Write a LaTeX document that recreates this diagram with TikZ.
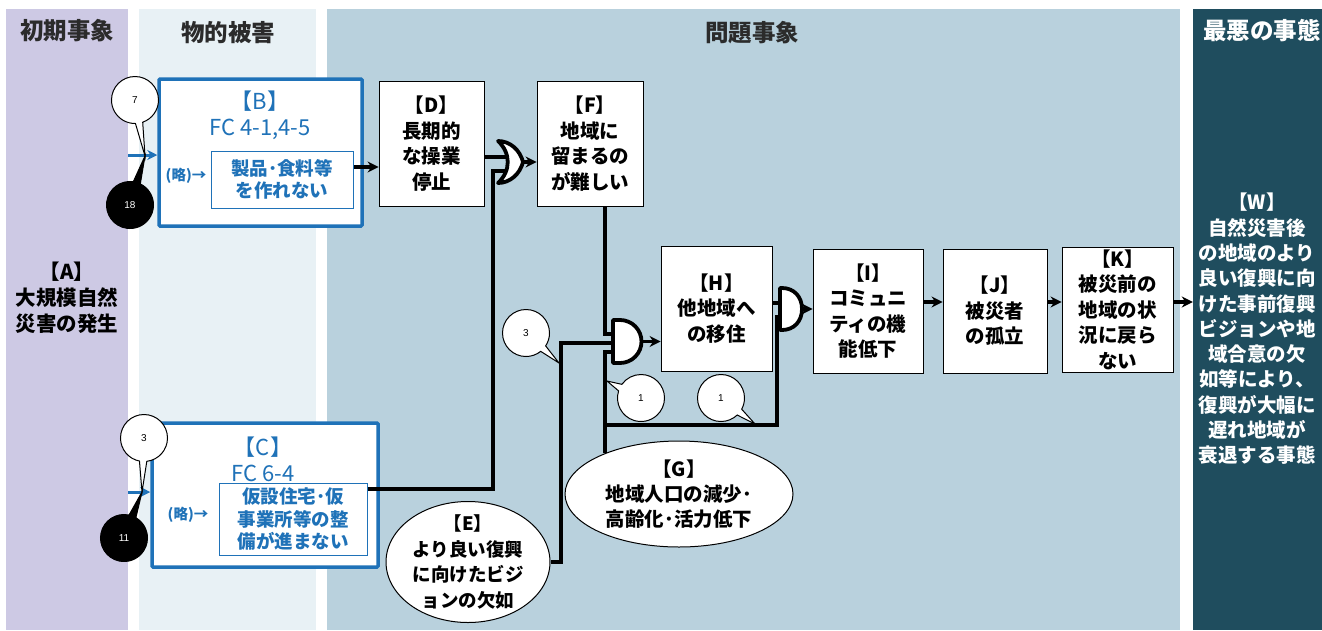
\documentclass[tikz,border=0pt]{standalone}
\usepackage{fontspec}
\setmainfont{Noto Sans CJK JP}
\newfontfamily\numfont{Liberation Sans}
\usepackage{xcolor}
\usepackage{tikz}
\usetikzlibrary{arrows.meta, positioning, shapes.geometric, shapes.callouts, calc}

\definecolor{laneA}{HTML}{CDC9E4}
\definecolor{laneB}{HTML}{E8F1F5}
\definecolor{laneP}{HTML}{B9D1DD}
\definecolor{laneW}{HTML}{1F4D5E}
\definecolor{fcblue}{HTML}{1F72B8}
\definecolor{headgray}{HTML}{2B2B2B}
\newcommand\bxfont{\bfseries\fontsize{19.5}{25.5}\selectfont}

\begin{document}
\begin{tikzpicture}[x=1pt, y=-1pt,
    lane/.style={rectangle, inner sep=0pt, draw=none, minimum height=621pt},
    head/.style={font=\bfseries\fontsize{23.5}{26}\selectfont, text=headgray},
    box/.style={rectangle, draw, line width=0.8pt, fill=white, align=center,
      inner sep=0pt, font=\bxfont},
    fcbox/.style={rectangle, draw=fcblue, line width=3.5pt, fill=white,
      rounded corners=1pt, inner sep=0pt},
    inbox/.style={rectangle, draw=fcblue, line width=1pt, fill=white, align=center,
      inner sep=0pt, text=fcblue, font=\bfseries\fontsize{18.5}{22.5}\selectfont},
    fctext/.style={align=center, text=fcblue, font=\fontsize{22}{26}\selectfont},
    omitnote/.style={text=fcblue, font=\bfseries\fontsize{14.5}{16}\selectfont, inner sep=0pt},
    oval/.style={ellipse, draw, line width=1pt, fill=white, inner sep=0pt},
    ovaltext/.style={align=center, inner sep=0pt},
    bubble/.style={ellipse callout, draw, line width=1pt, fill=white, inner sep=0pt,
      minimum width=47pt, minimum height=47pt, callout pointer arc=18,
      font=\numfont\fontsize{10}{12}\selectfont},
    blackbubble/.style={bubble, fill=black, text=white},
    line/.style={line width=3.5pt},
    arrow/.style={line width=3.5pt, -{Stealth[length=11pt, width=11pt]}},
    bluearrow/.style={draw=fcblue, line width=3pt, -{Stealth[length=10pt, width=10pt]}},
    gate/.style={line width=3.8pt, fill=white, line join=round}
]
\useasboundingbox (0,0) rectangle (1322,630);

% lanes
\node[lane, fill=laneA, minimum width=122pt] (laneA) at (67,319.5) {};
\node[lane, fill=laneB, minimum width=177pt] (laneB) at (227.5,319.5) {};
\node[lane, fill=laneP, minimum width=853pt] (laneP) at (753.5,319.5) {};
\node[lane, fill=laneW, minimum width=129pt] (laneW) at (1257.5,319.5) {};
\node[head]             (hA) at (67,31)   {初期事象};
\node[head]             (hB) at (228,33)  {物的被害};
\node[head]             (hP) at (752,33)  {問題事象};
\node[head, text=white] (hW) at (1262,31) {最悪の事態};

% initial event and worst case
\node[align=center, font=\bfseries\fontsize{20.5}{26}\selectfont] (A) at (67,298)
  {【A】\\大規模自然\\災害の発生};
\node[align=center, text=white, font=\bfseries\fontsize{19.5}{25.3}\selectfont] (W) at (1257,329)
  {【W】\\自然災害後\\の地域のより\\良い復興に向\\けた事前復興\\ビジョンや地\\域合意の欠\\如等により、\\復興が大幅に\\遅れ地域が\\衰退する事態};

% physical damage
\node[fcbox, minimum width=203pt, minimum height=147pt] (B) at (260.5,152.5) {};
\node[fctext] (Bhead) at (260,115) {【B】\\FC 4-1,4-5};
\node[inbox, minimum width=142pt, minimum height=57pt] (Bin) at (282,179.5) {製品･食料等\\を作れない};
\node[omitnote] (Bomit) at (186,176) {(略)→};

\node[fcbox, minimum width=226pt, minimum height=144pt] (C) at (265,495) {};
\node[fctext] (Chead) at (263,459.5) {【C】\\FC 6-4};
\node[inbox, minimum width=148pt, minimum height=72pt] (Cin) at (293,519) {仮設住宅･仮\\事業所等の整\\備が進まない};
\node[omitnote] (Comit) at (188,515) {(略)→};

% problem events
\node[box, minimum width=105pt, minimum height=125pt] (D) at (431.5,143.5) {【D】\\長期的\\な操業\\停止};
\node[box, minimum width=106pt, minimum height=125pt] (F) at (590,143.5)   {【F】\\地域に\\留まるの\\が難しい};
\node[box, minimum width=111pt, minimum height=125pt] (H) at (716.5,308.5) {【H】\\他地域へ\\の移住};
\node[box, minimum width=110pt, minimum height=124pt] (I) at (868,311)     {【I】\\コミュニ\\ティの機\\能低下};
\node[box, minimum width=104pt, minimum height=124pt] (J) at (995,311)     {【J】\\被災者\\の孤立};
\node[box, minimum width=111pt, minimum height=125pt] (K) at (1117.5,309.5) {【K】\\被災前の\\地域の状\\況に戻ら\\ない};

\node[oval, minimum width=164pt, minimum height=121pt] (E) at (468,562) {};
\node[ovaltext, font=\bfseries\fontsize{18.5}{25.7}\selectfont] (Etext) at (E.center)
  {【E】\\より良い復興\\に向けたビジ\\ョンの欠如};
\node[oval, minimum width=228pt, minimum height=106pt] (G) at (679,494) {};
\node[ovaltext, font=\bfseries\fontsize{19.5}{25}\selectfont] (Gtext) at (G.center)
  {【G】\\地域人口の減少･\\高齢化･活力低下};

% gate ports
\coordinate (orD-in1)  at (508,157);
\coordinate (orD-in2)  at (508,171);
\coordinate (orD-out)  at (523,162);
\coordinate (andH-in1) at (618,334);
\coordinate (andH-in2) at (618,343);
\coordinate (andH-in3) at (618,352);
\coordinate (andH-out) at (641.5,341.5);
\coordinate (andI-in1) at (784,303);
\coordinate (andI-in2) at (784,317);
\coordinate (andI-out) at (802,309);
\coordinate (gI)  at (777,425);
\coordinate (row) at (0,302);
\coordinate (inB) at (128,155);
\coordinate (inC) at (128,492);
\coordinate (bd)  at ([yshift=12.5pt]Bin.east);
\coordinate (cd)  at ([yshift=30pt]Cin.east);

% connectors
\draw[bluearrow] (inB) -- (B.west |- inB);
\draw[bluearrow] (inC) -- (C.west |- inC);
\draw[arrow] (bd) -- (D.west |- bd);
\draw[line] (D.east |- orD-in1) -- (orD-in1);
\draw[line] (cd) -| ($(orD-in2)+(-15,0)$) -- (orD-in2);
\draw[arrow] (orD-out) -- (F.west |- orD-out);
\draw[line] ([xshift=15pt]F.south) |- (andH-in1);
\draw[line] (E.east) -| ($(andH-in2)+(-57,0)$) -- (andH-in2);
\draw[line] (G.151) |- (andH-in3);
\draw[line] (andI-in2) -- (andI-in2 -| gI) -- (gI) -- (gI -| G.151);
\draw[arrow] (andH-out) -- (H.west |- andH-out);
\draw[line] (H.east |- andI-in1) -- (andI-in1);
\draw[arrow] (andI-out) -- (I.west |- andI-out);
\draw[arrow] (I.east |- row) -- (J.west |- row);
\draw[arrow] (J.east |- row) -- (K.west |- row);
\draw[arrow] (K.east |- row) -- (laneW.west |- row);

% gates
\draw[gate] (498,141) .. controls (510,141) and (520,150) .. (523,162)
  .. controls (520,174) and (510,183) .. (498,183)
  .. controls (511,171) and (511,153) .. (498,141) -- cycle;
\draw[gate] (613,320) -- (620,320) .. controls (631.9,320) and (641.5,329.6) .. (641.5,341.5)
  .. controls (641.5,353.4) and (631.9,363) .. (620,363) -- (613,363) -- cycle;
\draw[gate] (780,288) -- (782,288) .. controls (794.2,288) and (802,297) .. (802,309)
  .. controls (802,321) and (794.2,330) .. (782,330) -- (780,330) -- cycle;

% counts
\node[bubble, callout absolute pointer={(145,156)}]      (n7)  at (135,100) {7};
\node[blackbubble, callout absolute pointer={(145,156)}] (n18) at (130,205) {18};
\node[bubble, callout absolute pointer={(142,492)}]      (n3c) at (144,438) {3};
\node[blackbubble, callout absolute pointer={(142,492)}] (n11) at (124,538) {11};
\node[bubble, callout absolute pointer={(559,363)}]      (n3e) at (526,333) {3};
\node[bubble, callout absolute pointer={(607,381)}]      (n1a) at (641,398) {1};
\node[bubble, callout absolute pointer={(755,424)}]      (n1b) at (721,398) {1};
\end{tikzpicture}
\end{document}
